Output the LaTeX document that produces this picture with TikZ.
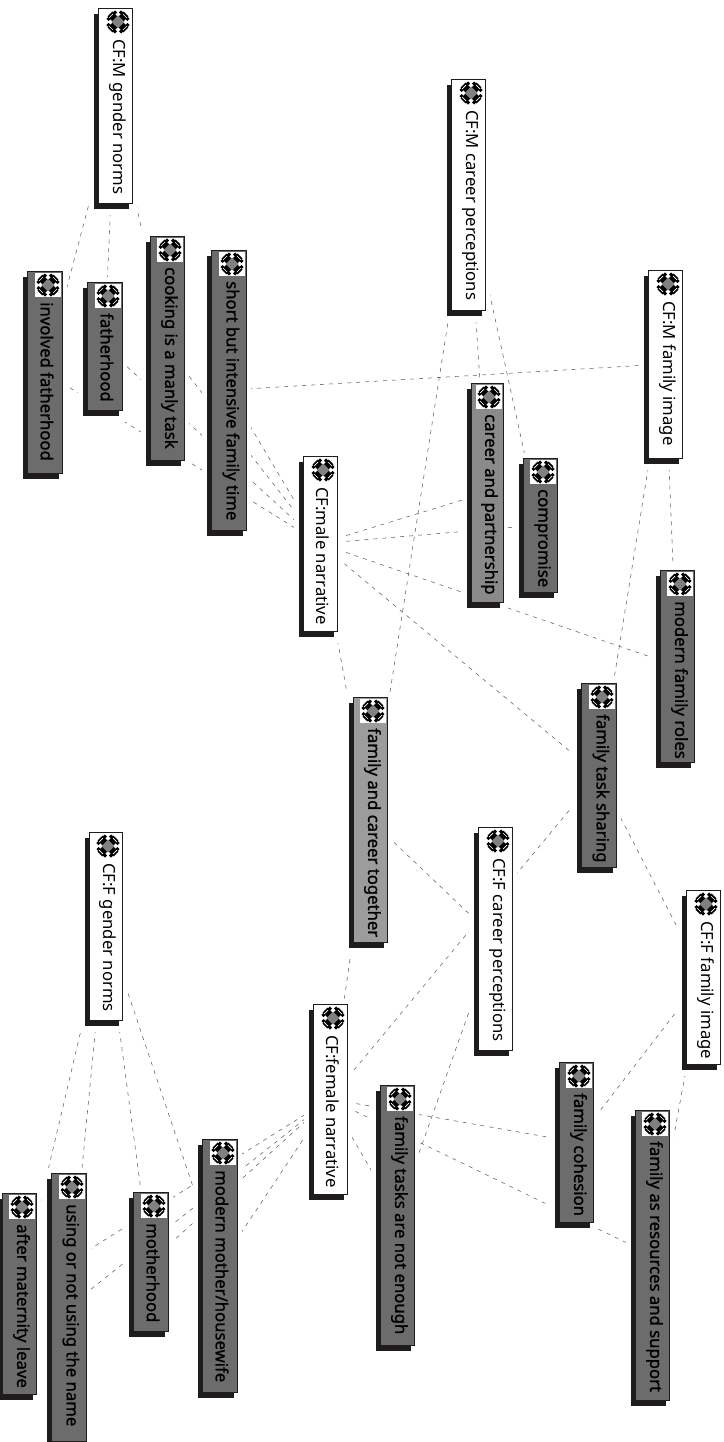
\documentclass[tikz,border=0pt]{standalone}
\usepackage{fontspec}
\setmainfont{Noto Sans}
\newfontfamily\cfheavy[FakeBold=1.2]{Noto Sans}
\pgfdeclarelayer{lines}
\pgfdeclarelayer{halo}
\pgfsetlayers{lines,halo,main}
\definecolor{cfdark}{HTML}{6C6C6C}
\definecolor{cfmid}{HTML}{8A8A8A}
\definecolor{cflight}{HTML}{9C9C9C}
\definecolor{cfink}{HTML}{1E1C1D}
\newcommand{\cfbox}[7]{%
  \pgfmathsetmacro{\cfw}{#4-#2}%
  \pgfmathsetmacro{\cfh}{#5-#3}%
  \pgfmathsetmacro{\cfx}{(#2+#4)/2}%
  \pgfmathsetmacro{\cfy}{(#3+#5)/2}%
  \pgfmathsetmacro{\cfix}{#4-14}%
  \pgfmathsetmacro{\cfiy}{#3+14}%
  \pgfmathsetmacro{\cftx}{\cfx+2.5}%
  \begin{pgfonlayer}{halo}
    \fill[white] (#2-9,#3-5) rectangle (#4+5,#5+12);
  \end{pgfonlayer}
  \fill[cfink] (#2-4,#3+6) rectangle (#4-3,#5+6);
  \node[cfnode,fill=#6,minimum width=\cfw pt,minimum height=\cfh pt] (#1) at (\cfx,\cfy) {};
  \fill[white] (\cfix-13,\cfiy-12) rectangle (\cfix+12.5,\cfiy+12);
  \draw[cfarm] (\cfix-8,\cfiy-8) -- (\cfix+8,\cfiy+8);
  \draw[cfarm] (\cfix-8,\cfiy+8) -- (\cfix+8,\cfiy-8);
  \draw[cfnub] (\cfix+2,\cfiy-10.5) -- (\cfix+10.5,\cfiy-2) (\cfix+2,\cfiy+10.5) -- (\cfix+10.5,\cfiy+2)
               (\cfix-2,\cfiy-10.5) -- (\cfix-10.5,\cfiy-2) (\cfix-2,\cfiy+10.5) -- (\cfix-10.5,\cfiy+2);
  \draw[cftick] (\cfix+9,\cfiy-4) -- (\cfix+5,\cfiy-8) (\cfix+9,\cfiy+4) -- (\cfix+5,\cfiy+8)
                (\cfix-9,\cfiy-4) -- (\cfix-5,\cfiy-8) (\cfix-9,\cfiy+4) -- (\cfix-5,\cfiy+8);
  \fill[black!50] (\cfix-6.5,\cfiy) -- (\cfix,\cfiy-6.5) -- (\cfix+6.5,\cfiy) -- (\cfix,\cfiy+6.5) -- cycle;
  \node[cftext] (#1-t) at (\cftx,#3+31) {#7};
}
\tikzset{
  cfnode/.style={draw=cfink,line width=0.9pt,rectangle,inner sep=0pt},
  cftext/.style={rotate=-90,anchor=west,inner sep=0pt,text=black,font=\fontsize{16.7}{19}\selectfont},
  cfarm/.style={black,line width=7pt},
  cfnub/.style={black,line width=3pt},
  cftick/.style={white,line width=0.7pt},
  cflink/.style={draw=black!62,line width=0.55pt,dash pattern=on 4pt off 5pt},
}
\begin{document}
\begin{tikzpicture}[x=1pt,y=-1pt]
\useasboundingbox (0,0) rectangle (723,1442);
\cfbox{mgn}{98}{8}{132}{203}{white}{CF:M gender norms}
\cfbox{mcp}{451}{79}{485}{310}{white}{CF:M career perceptions}
\cfbox{mfi}{648}{270}{682}{458}{white}{CF:M family image}
\cfbox{mn}{303}{456}{337}{631}{white}{CF:male narrative}
\cfbox{fgn}{89}{832}{122}{1020}{white}{CF:F gender norms}
\cfbox{fcp}{478}{827}{512}{1050}{white}{CF:F career perceptions}
\cfbox{ffi}{686}{890}{720}{1064}{white}{CF:F family image}
\cfbox{fn}{313}{1004}{347}{1194}{white}{CF:female narrative}
\cfbox{inv}{27}{271}{62}{473}{cfdark}{\cfheavy involved fatherhood}
\cfbox{fat}{87}{282}{122}{410}{cfdark}{\cfheavy fatherhood}
\cfbox{coo}{150}{236}{184}{460}{cfdark}{\cfheavy cooking is a manly task}
\cfbox{sho}{211}{250}{246}{530}{cfdark}{\cfheavy short but intensive family time}
\cfbox{cap}{471}{383}{503}{602}{cfmid}{\cfheavy career and partnership}
\cfbox{com}{523}{458}{557}{592}{cfdark}{\cfheavy compromise}
\cfbox{mfr}{660}{570}{694}{762}{cfdark}{\cfheavy modern family roles}
\cfbox{fts}{581}{683}{616}{867}{cfdark}{\cfheavy family task sharing}
\cfbox{fct}{353}{697}{387}{942}{cflight}{\cfheavy family and career together}
\cfbox{ftn}{380}{1085}{414}{1345}{cfdark}{\cfheavy family tasks are not enough}
\cfbox{fco}{559}{1062}{593}{1222}{cfdark}{\cfheavy family cohesion}
\cfbox{frs}{635}{1110}{669}{1400}{cfdark}{\cfheavy family as resources and support}
\cfbox{mmh}{202}{1139}{237}{1392}{cfdark}{\cfheavy modern mother/housewife}
\cfbox{mot}{133}{1192}{168}{1331}{cfdark}{\cfheavy motherhood}
\cfbox{usi}{51}{1173}{86}{1441}{cfdark}{\cfheavy using or not using the name}
\cfbox{aft}{2}{1193}{36}{1394}{cfdark}{\cfheavy after maternity leave}
\begin{pgfonlayer}{lines}
\draw[cflink] (mgn) -- (inv);
\draw[cflink] (mgn) -- (fat);
\draw[cflink] (mgn) -- (coo);
\draw[cflink] (mfi) -- (sho);
\draw[cflink] (mfi) -- (mfr);
\draw[cflink] (mfi) -- (fts);
\draw[cflink] (mcp) -- (cap);
\draw[cflink] (mcp) -- (com);
\draw[cflink] (mcp) -- (fct);
\draw[cflink] (mn) -- (inv);
\draw[cflink] (mn) -- (fat);
\draw[cflink] (mn) -- (coo);
\draw[cflink] (mn) -- (sho);
\draw[cflink] (mn) -- (cap);
\draw[cflink] (mn) -- (com);
\draw[cflink] (mn) -- (mfr);
\draw[cflink] (mn) -- (fts);
\draw[cflink] (mn) -- (fct);
\draw[cflink] (fct) -- (fcp);
\draw[cflink] (fct) -- (fn);
\draw[cflink] (fts) -- (fn);
\draw[cflink] (fts) -- (ffi);
\draw[cflink] (ffi) -- (fco);
\draw[cflink] (ffi) -- (frs);
\draw[cflink] (fcp) -- (ftn);
\draw[cflink] (fn) -- (fco);
\draw[cflink] (fn) -- (frs);
\draw[cflink] (fn) -- (ftn);
\draw[cflink] (fn) -- (mmh);
\draw[cflink] (fn) -- (mot);
\draw[cflink] (fn) -- (usi);
\draw[cflink] (fn) -- (aft);
\draw[cflink] (fgn) -- (aft);
\draw[cflink] (fgn) -- (usi);
\draw[cflink] (fgn) -- (mot);
\draw[cflink] (fgn) -- (mmh);
\end{pgfonlayer}
\end{tikzpicture}
\end{document}
